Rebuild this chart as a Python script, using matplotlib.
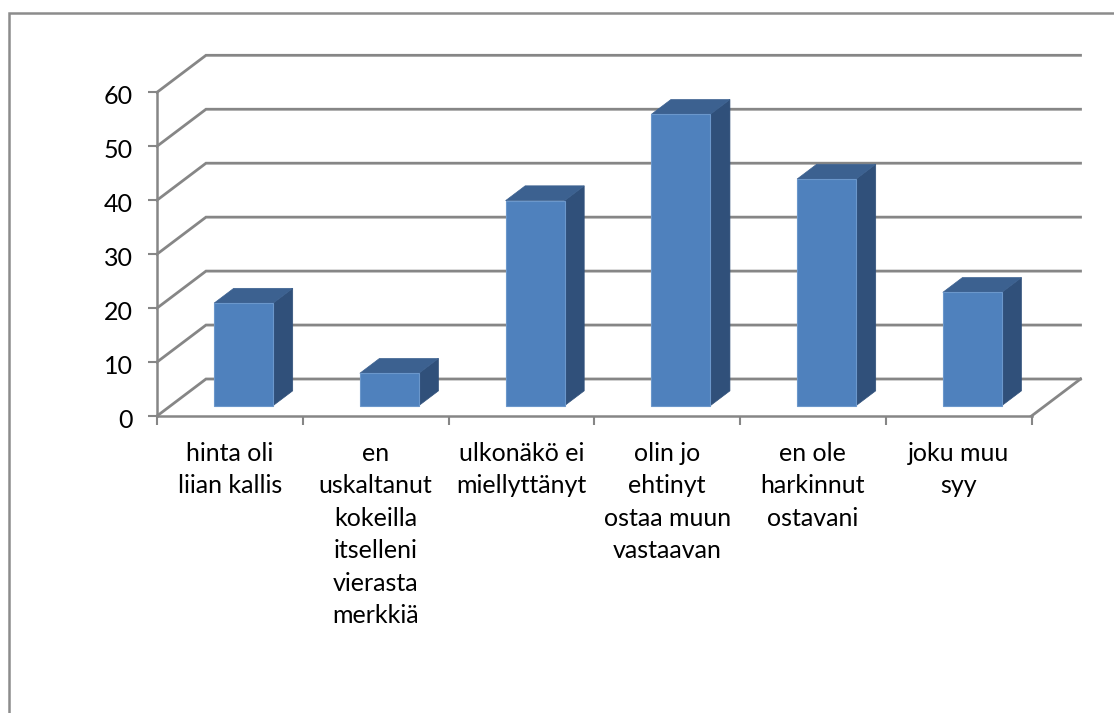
import numpy as np
import matplotlib
matplotlib.use('Agg')
import matplotlib.pyplot as plt
from matplotlib.lines import Line2D
from matplotlib.transforms import ScaledTranslation

kategoriat = ['hinta oli\nliian kallis',
              'en\nuskaltanut\nkokeilla\nitselleni\nvierasta\nmerkkiä',
              'ulkonäkö ei\nmiellyttänyt',
              'olin jo\nehtinyt\nostaa muun\nvastaavan',
              'en ole\nharkinnut\nostavani',
              'joku muu\nsyy']
arvot = [19, 6, 38, 54, 42, 21]
y_ticks = [0, 10, 20, 30, 40, 50, 60]

W, H = 1114, 713
# akselin paikka pikseleina
LEFT, RIGHT, TOP, BOTTOM = 157, 1031.5, 92.3, 416

# vino projektio: syvyys 0..1 siirtaa pistetta oikealle ja ylos
DX = 49 / ((RIGHT - LEFT) / 6)
DY = 37 / ((BOTTOM - TOP) / 60)

GRID = '#868686'
FRONT = '#4f81bd'
SIDE = '#30507a'
TOPC = '#3c6190'

plt.rcParams['font.family'] = ['Lato', 'DejaVu Sans']


def proj(x, y, z):
    return x + z * DX, y + z * DY


fig = plt.figure(figsize=(W / 100, H / 100), dpi=100)
ax = fig.add_axes([LEFT / W, 1 - BOTTOM / H, (RIGHT - LEFT) / W, (BOTTOM - TOP) / H])
ax.set_xlim(0, len(arvot))
ax.set_ylim(0, y_ticks[-1])
ax.patch.set_visible(False)

for s in ['top', 'right']:
    ax.spines[s].set_visible(False)
for s in ['left', 'bottom']:
    ax.spines[s].set_color(GRID)
    ax.spines[s].set_linewidth(1.8)

ax.set_yticks(y_ticks)
ax.set_xticks(range(len(arvot) + 1))
ax.set_xticklabels([])
ax.set_xticks(np.arange(len(arvot)) + 0.5, kategoriat, minor=True)
ax.tick_params(axis='both', which='major', color=GRID, width=1.5, length=6.5,
               labelsize=18, labelcolor='black', pad=11)
ax.tick_params(axis='x', which='minor', length=0, labelsize=18, pad=18.5)
for t in ax.get_xticklabels(minor=True):
    t.set_linespacing(1.5)
    t.set_verticalalignment('top')
# y-numerot hieman tikkia alempana
siirto = ScaledTranslation(0, -2 / 100, fig.dpi_scale_trans)
for t in ax.get_yticklabels():
    t.set_transform(t.get_transform() + siirto)

# apuviivat seinilla
for v in y_ticks:
    xb, yb = proj(0, v, 1)
    xe, ye = proj(len(arvot), v, 1)
    ax.plot([0, xb, xe], [v, yb, ye], color=GRID, lw=2, clip_on=False,
            solid_joinstyle='miter', zorder=1)
# lattian oikea reuna
xe, ye = proj(len(arvot), 0, 1)
ax.plot([len(arvot), xe], [0, ye], color=GRID, lw=2, clip_on=False, zorder=1)

# palkit
leveys = 59 / ((RIGHT - LEFT) / 6)
z0, z1 = 0.28, 0.68
for i, arvo in enumerate(arvot):
    x0 = i + 0.5 - leveys / 2
    x1 = x0 + leveys
    etu = [proj(x0, 0, z0), proj(x1, 0, z0), proj(x1, arvo, z0), proj(x0, arvo, z0)]
    sivu = [proj(x1, 0, z0), proj(x1, 0, z1), proj(x1, arvo, z1), proj(x1, arvo, z0)]
    kansi = [proj(x0, arvo, z0), proj(x1, arvo, z0), proj(x1, arvo, z1), proj(x0, arvo, z1)]
    ax.fill(*zip(*sivu), color=SIDE, lw=0.5, clip_on=False, zorder=3)
    ax.fill(*zip(*kansi), color=TOPC, lw=0.5, clip_on=False, zorder=3)
    ax.fill(*zip(*etu), facecolor=FRONT, edgecolor='#6b97cb', lw=0.8, clip_on=False, zorder=4)

# kaavion kehys, oikea ja ala reuna jaavat kuvan ulkopuolelle
fig.add_artist(Line2D([8.5 / W, 8.5 / W, 1], [0, 1 - 12.5 / H, 1 - 12.5 / H],
                      color='#8c8c8c', lw=1.8, solid_joinstyle='miter'))

fig.savefig('out.png', dpi=100)
